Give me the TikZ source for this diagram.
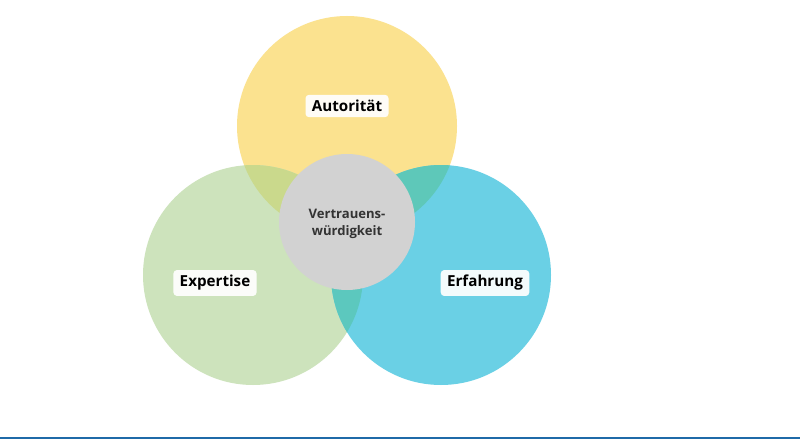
\documentclass[tikz,border=0pt]{standalone}
\usepackage{fontspec}
\setmainfont{Open Sans}
\usetikzlibrary{positioning}
\definecolor{autYellow}{HTML}{FBE28F}
\definecolor{expGreen}{HTML}{CDE3BC}
\definecolor{erfBlue}{HTML}{6AD0E5}
\definecolor{ygMix}{HTML}{CAD98C}
\definecolor{ybMix}{HTML}{5EC8B9}
\definecolor{gbMix}{HTML}{5CC8BE}
\definecolor{coreGray}{HTML}{D2D2D2}
\definecolor{baseBlue}{HTML}{1F6AA8}

\begin{document}
\begin{tikzpicture}[
                x=0.025cm, y=-0.025cm,
                tag/.style={rectangle, fill=white, fill opacity=0.92, text opacity=1, rounded corners=2.5pt, inner xsep=4.5pt, inner ysep=3.8pt, font=\fontsize{10.8}{12}\selectfont\bfseries, text=black},
                core/.style={align=center, font=\fontsize{9.3}{12}\selectfont\bfseries, text=black!80}
            ]
                \useasboundingbox (0,0) rectangle (800,440);
                \fill[white] (0,0) rectangle (800,440);

                \coordinate (autC) at (347,126);
                \coordinate (expC) at (253,275);
                \coordinate (erfC) at (441,275);

                \fill[autYellow] (autC) circle[radius=110];
                \fill[expGreen] (expC) circle[radius=110];
                \fill[erfBlue] (erfC) circle[radius=110];

                % overlaps
                \begin{scope}
                    \clip (autC) circle[radius=110];
                    \fill[ygMix] (expC) circle[radius=110];
                    \fill[ybMix] (erfC) circle[radius=110];
                \end{scope}
                \begin{scope}
                    \clip (expC) circle[radius=110];
                    \fill[gbMix] (erfC) circle[radius=110];
                \end{scope}

                \fill[coreGray] (347,222) circle[radius=68];
                \node[core] (trust) at (347,224) {Vertrauens-\\würdigkeit};

                \node[tag] (aut) at (347,106) {Autorität};
                \node[tag] (exp) at (215,283) {Expertise};
                \node[tag] (erf) at (485,283) {Erfahrung};

                \draw[baseBlue, line width=1.1pt] (0,438) -- (800,438);
            \end{tikzpicture}
\end{document}
